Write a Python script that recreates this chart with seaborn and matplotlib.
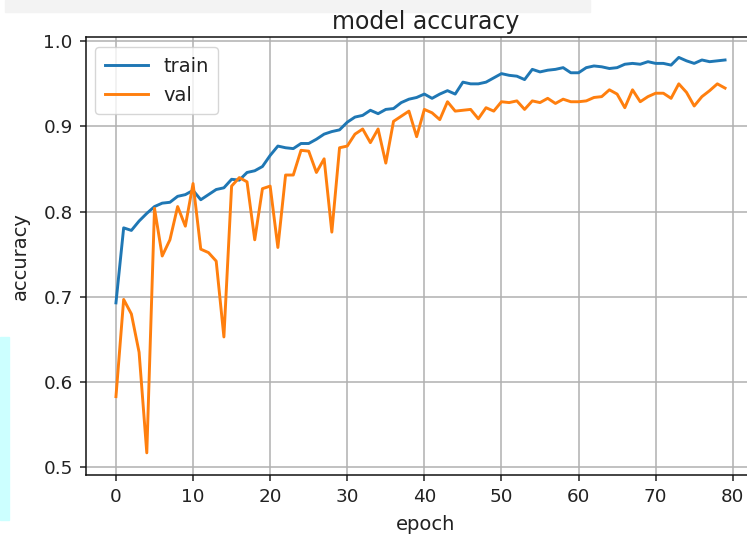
import matplotlib
matplotlib.use("Agg")
import matplotlib.pyplot as plt
from matplotlib.patches import Rectangle
import seaborn as sns
import pandas as pd

epochs = list(range(80))
train_acc = [0.693, 0.781, 0.778, 0.789, 0.798, 0.806, 0.810, 0.811, 0.818, 0.820,
             0.825, 0.814, 0.820, 0.826, 0.828, 0.838, 0.837, 0.846, 0.848, 0.853,
             0.866, 0.877, 0.875, 0.874, 0.880, 0.880, 0.885, 0.891, 0.894, 0.896,
             0.905, 0.911, 0.913, 0.919, 0.915, 0.920, 0.921, 0.928, 0.932, 0.934,
             0.938, 0.933, 0.938, 0.942, 0.938, 0.952, 0.950, 0.950, 0.952, 0.957,
             0.962, 0.960, 0.959, 0.955, 0.967, 0.964, 0.966, 0.967, 0.969, 0.963,
             0.963, 0.969, 0.971, 0.970, 0.968, 0.969, 0.973, 0.974, 0.973, 0.976,
             0.974, 0.974, 0.972, 0.981, 0.977, 0.974, 0.978, 0.976, 0.977, 0.978]
val_acc = [0.583, 0.697, 0.680, 0.635, 0.517, 0.804, 0.748, 0.767, 0.806, 0.783,
           0.833, 0.756, 0.752, 0.742, 0.653, 0.830, 0.840, 0.835, 0.767, 0.827,
           0.830, 0.758, 0.843, 0.843, 0.872, 0.871, 0.846, 0.862, 0.776, 0.875,
           0.877, 0.891, 0.897, 0.881, 0.897, 0.857, 0.906, 0.912, 0.918, 0.888,
           0.920, 0.916, 0.908, 0.929, 0.918, 0.919, 0.920, 0.909, 0.922, 0.918,
           0.929, 0.928, 0.930, 0.920, 0.930, 0.928, 0.933, 0.927, 0.932, 0.929,
           0.929, 0.930, 0.934, 0.935, 0.943, 0.938, 0.922, 0.943, 0.929, 0.935,
           0.939, 0.939, 0.933, 0.950, 0.940, 0.924, 0.935, 0.942, 0.950, 0.945]
series_names = ["train", "val"]
series_colors = ["#1f77b4", "#ff7f0e"]
xticks = [0, 10, 20, 30, 40, 50, 60, 70, 80]
yticks = [0.5, 0.6, 0.7, 0.8, 0.9, 1.0]

plt.rcParams["font.family"] = ["DejaVu Sans"]
text_color = "#222222"

fig = plt.figure(figsize=(7.47, 5.37), dpi=100)
W, H = 747, 537
# screenshot artifacts
fig.patches.append(Rectangle((5 / W, 1 - 12 / H), 585 / W, 12 / H,
                             transform=fig.transFigure, color="#f3f3f3", zorder=-5))
fig.patches.append(Rectangle((0, 1 - 520 / H), 8.5 / W, 183 / H,
                             transform=fig.transFigure, color="#ccffff", zorder=-5))

ax_left, ax_top, ax_bottom = 85.5, 37.4, 475.0
ax = fig.add_axes([ax_left / W, 1 - ax_bottom / H, 680.0 / W, (ax_bottom - ax_top) / H])

df = pd.DataFrame({"epoch": epochs * 2,
                   "accuracy": train_acc + val_acc,
                   "series": [series_names[0]] * len(epochs) + [series_names[1]] * len(epochs)})
sns.lineplot(data=df, x="epoch", y="accuracy", hue="series",
             palette=series_colors, linewidth=2.1, ax=ax)

ax.set_xlim(-3.95, -3.95 + 680.0 / 7.71)
ax.set_ylim(0.491, 1.0045)
ax.set_xticks(xticks)
ax.set_yticks(yticks)
ax.set_yticklabels([f"{v:.1f}" for v in yticks])
ax.grid(True, color="#b0b0b0", linewidth=1.1)
ax.set_axisbelow(True)
for s in ax.spines.values():
    s.set_linewidth(1.1)
    s.set_color("#111111")
ax.tick_params(axis="both", labelsize=13.2, length=4.5, width=1.1, pad=4.7,
               colors=text_color)
ax.set_title("model accuracy", fontsize=17, color=text_color, pad=6)
ax.set_xlabel("epoch", fontsize=14, color=text_color, labelpad=7)
ax.set_ylabel("accuracy", fontsize=14, color=text_color, labelpad=10)
leg = ax.legend(loc="upper left", fontsize=14, title=None, borderpad=0.5,
                handlelength=2.2)
for t in leg.get_texts():
    t.set_color(text_color)

fig.savefig("out.png", dpi=100)
